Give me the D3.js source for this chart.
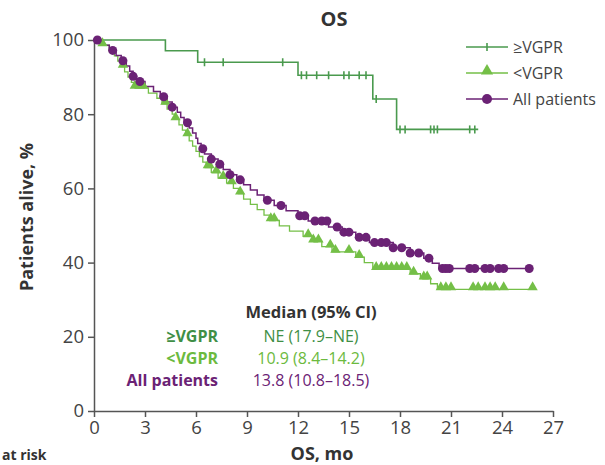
<!DOCTYPE html>
<html lang="en">
<head>
  <meta charset="UTF-8">
  <title>OS</title>
  <style>
    body { margin: 0; background: #fff; font-family: "Open Sans", Arial, sans-serif; }
    svg { display: block; }
    .axis path, .axis line { stroke: #555; stroke-width: 1.5; }
    .axis text { font-size: 18.5px; fill: #444; font-family: "Open Sans", sans-serif; }
  </style>
</head>
<body>
  <div id="chart"></div>
  <script src="https://d3js.org/d3.v7.min.js"></script>
  <script>
    // step data: [month, % alive after the drop]
    const vgprSteps = [[0, 100], [4.2, 97.1], [6.1, 94.0], [12.0, 90.5], [16.4, 84.1], [17.8, 75.9]];
    const vgprEnd = 22.6;
    const vgprCensor = [6.5, 7.6, 11.1, 12.2, 12.5, 13.1, 13.8, 14.7, 15.0, 15.6, 16.0, 16.6,
      18.0, 18.3, 19.8, 20.0, 20.2, 22.1, 22.4];

    const lowSteps = [[0, 100], [0.5, 98.6], [0.9, 97.1], [1.2, 95.7], [1.4, 94.3], [1.6, 92.8],
      [1.8, 91.4], [2.0, 90.0], [2.2, 88.6], [2.4, 87.1], [3.2, 85.7], [3.7, 84.3], [4.0, 82.8],
      [4.3, 81.4], [4.6, 80.0], [4.8, 78.6], [5.0, 77.1], [5.2, 75.7], [5.4, 74.3], [5.6, 72.8],
      [5.8, 71.4], [6.0, 70.0], [6.2, 68.6], [6.4, 67.1], [6.6, 65.7], [6.9, 64.3], [7.3, 62.8],
      [7.8, 61.4], [8.2, 60.0], [8.5, 58.6], [8.8, 57.1], [9.2, 55.7], [9.6, 54.3], [10.0, 52.8],
      [10.4, 51.4], [10.9, 49.9], [11.5, 48.5], [12.3, 47.1], [12.9, 45.7], [13.4, 44.3],
      [14.0, 42.9], [15.4, 41.5], [15.9, 40.0], [16.4, 38.3], [18.6, 37.0], [19.2, 35.7],
      [19.8, 34.3], [20.2, 32.8]];
    const lowEnd = 25.8;
    const lowCensor = [0.5, 1.7, 2.4, 2.7, 2.9, 4.2, 4.8, 5.5, 6.7, 6.8, 7.2, 7.6, 8.1, 8.6,
      10.4, 10.6, 12.6, 12.9, 13.2, 13.9, 14.2, 15.0, 15.6, 16.6, 16.9, 17.2, 17.5, 17.8, 18.1,
      18.4, 18.8, 19.4, 19.6, 20.4, 20.7, 21.0, 22.3, 22.6, 23.0, 23.3, 23.6, 24.1, 25.8];

    const allSteps = [[0, 100], [0.4, 98.6], [0.9, 97.2], [1.3, 95.8], [1.6, 94.4], [1.9, 93.0],
      [2.1, 91.6], [2.3, 90.2], [2.5, 88.8], [3.0, 87.5], [3.5, 86.1], [3.9, 84.7], [4.3, 83.3],
      [4.6, 81.9], [4.9, 80.5], [5.1, 79.1], [5.3, 77.7], [5.6, 76.3], [5.8, 74.9], [6.0, 73.5],
      [6.1, 72.1], [6.3, 70.7], [6.5, 69.3], [6.9, 67.9], [7.3, 66.5], [7.6, 65.1], [8.0, 63.7],
      [8.4, 62.3], [8.8, 61.0], [9.2, 59.6], [9.6, 58.2], [10.0, 56.8], [10.6, 55.4], [11.3, 54.0],
      [12.0, 52.6], [12.6, 51.2], [13.8, 49.6], [14.6, 48.2], [15.4, 46.8], [16.2, 45.4],
      [17.6, 44.0], [18.6, 42.6], [19.4, 41.2], [19.9, 39.8], [20.3, 38.4]];
    const allEnd = 25.6;
    const allCensor = [0.2, 1.1, 1.7, 2.3, 2.7, 4.1, 4.6, 5.5, 6.4, 6.9, 7.4, 8.0, 8.6, 10.2,
      11.0, 12.1, 12.4, 13.0, 13.4, 13.7, 14.3, 14.7, 15.0, 15.6, 16.0, 16.5, 16.9, 17.2, 17.6,
      18.1, 18.6, 19.1, 19.7, 20.5, 20.7, 20.9, 22.1, 22.4, 23.0, 23.3, 23.8, 24.1, 25.6];

    const xTicks = [0, 3, 6, 9, 12, 15, 18, 21, 24, 27];
    const yTicks = [0, 20, 40, 60, 80, 100];

    const medianRows = [
      { label: "\u2265VGPR", value: "NE (17.9\u2013NE)" },
      { label: "<VGPR", value: "10.9 (8.4\u201314.2)" },
      { label: "All patients", value: "13.8 (10.8\u201318.5)" }
    ];

    const colors = { vgpr: "#4a9a4e", low: "#74bf47", all: "#6b2275" };
    const labelColors = { vgpr: "#3f8f46", low: "#6cba3e", all: "#6b2275" };

    const W = 605, H = 465;
    const svg = d3.select("#chart").append("svg").attr("width", W).attr("height", H);

    const x = d3.scaleLinear().domain([0, 27]).range([94, 553]);
    const y = d3.scaleLinear().domain([0, 100]).range([411, 40]);

    // axes
    svg.append("g").attr("class", "axis")
      .attr("transform", "translate(0,411)")
      .call(d3.axisBottom(x).tickValues(xTicks).tickSize(6).tickSizeOuter(0).tickPadding(4));
    svg.append("g").attr("class", "axis")
      .attr("transform", "translate(94,0)")
      .call(d3.axisLeft(y).tickValues(yTicks).tickSize(6).tickSizeOuter(0).tickPadding(4));

    svg.append("text").attr("x", 334).attr("y", 26).attr("text-anchor", "middle")
      .attr("font-size", 20).attr("font-weight", 700).attr("fill", "#333").text("OS");
    svg.append("text").attr("x", 322).attr("y", 460).attr("text-anchor", "middle")
      .attr("font-size", 18).attr("font-weight", 700).attr("fill", "#333").text("OS, mo");
    svg.append("text").attr("transform", "translate(33,217) rotate(-90)")
      .attr("text-anchor", "middle").attr("font-size", 18).attr("font-weight", 700)
      .attr("fill", "#333").text("Patients alive, %");
    svg.append("text").attr("x", 2).attr("y", 460)
      .attr("font-size", 14).attr("font-weight", 700).attr("fill", "#333").text("at risk");

    function valueAt(steps, t) {
      let v = steps[0][1];
      for (const s of steps) { if (s[0] <= t) v = s[1]; }
      return v;
    }

    const line = d3.line().x(d => x(d[0])).y(d => y(d[1])).curve(d3.curveStepAfter);

    function drawCurve(steps, end, color, width) {
      const pts = steps.concat([[end, steps[steps.length - 1][1]]]);
      svg.append("path").datum(pts).attr("d", line)
        .attr("fill", "none").attr("stroke", color).attr("stroke-width", width);
    }

    drawCurve(lowSteps, lowEnd, colors.low, 1.3);
    drawCurve(allSteps, allEnd, colors.all, 1.5);
    drawCurve(vgprSteps, vgprEnd, colors.vgpr, 1.6);

    const tri = d3.symbol().type(d3.symbolTriangle).size(46);

    // censor marks
    svg.append("g").selectAll("path").data(lowCensor).enter().append("path")
      .attr("d", tri)
      .attr("transform", t => `translate(${x(t)},${y(valueAt(lowSteps, t)) - 2})`)
      .attr("fill", colors.low);
    svg.append("g").selectAll("circle").data(allCensor).enter().append("circle")
      .attr("cx", t => x(t)).attr("cy", t => y(valueAt(allSteps, t)))
      .attr("r", 4.5).attr("fill", colors.all);
    svg.append("g").selectAll("line").data(vgprCensor).enter().append("line")
      .attr("x1", t => x(t)).attr("x2", t => x(t))
      .attr("y1", t => y(valueAt(vgprSteps, t)) - 4)
      .attr("y2", t => y(valueAt(vgprSteps, t)) + 4)
      .attr("stroke", colors.vgpr).attr("stroke-width", 1.6);

    // legend
    const legend = [
      { key: "vgpr", name: "\u2265VGPR", y: 47 },
      { key: "low", name: "<VGPR", y: 73 },
      { key: "all", name: "All patients", y: 99 }
    ];
    legend.forEach(d => {
      svg.append("line").attr("x1", 466).attr("x2", 508).attr("y1", d.y).attr("y2", d.y)
        .attr("stroke", colors[d.key]).attr("stroke-width", 1.6);
      if (d.key === "vgpr") {
        svg.append("line").attr("x1", 487).attr("x2", 487).attr("y1", d.y - 4).attr("y2", d.y + 4)
          .attr("stroke", colors.vgpr).attr("stroke-width", 1.6);
      } else if (d.key === "low") {
        svg.append("path").attr("d", d3.symbol().type(d3.symbolTriangle).size(64))
          .attr("transform", `translate(487,${d.y - 2})`).attr("fill", colors.low);
      } else {
        svg.append("circle").attr("cx", 487).attr("cy", d.y).attr("r", 5).attr("fill", colors.all);
      }
      svg.append("text").attr("x", 513).attr("y", d.y + 5.5).attr("font-size", 16)
        .attr("fill", "#444").text(d.name);
    });

    // median table
    svg.append("text").attr("x", 311).attr("y", 318).attr("text-anchor", "middle")
      .attr("font-size", 16.5).attr("font-weight", 700).attr("fill", "#333").text("Median (95% CI)");
    const keys = ["vgpr", "low", "all"];
    medianRows.forEach((r, i) => {
      const yy = 342 + i * 22;
      svg.append("text").attr("x", 218).attr("y", yy).attr("text-anchor", "end")
        .attr("font-size", 16).attr("font-weight", 700).attr("fill", labelColors[keys[i]]).text(r.label);
      svg.append("text").attr("x", 311).attr("y", yy).attr("text-anchor", "middle")
        .attr("font-size", 16).attr("fill", labelColors[keys[i]]).text(r.value);
    });
  </script>
</body>
</html>
